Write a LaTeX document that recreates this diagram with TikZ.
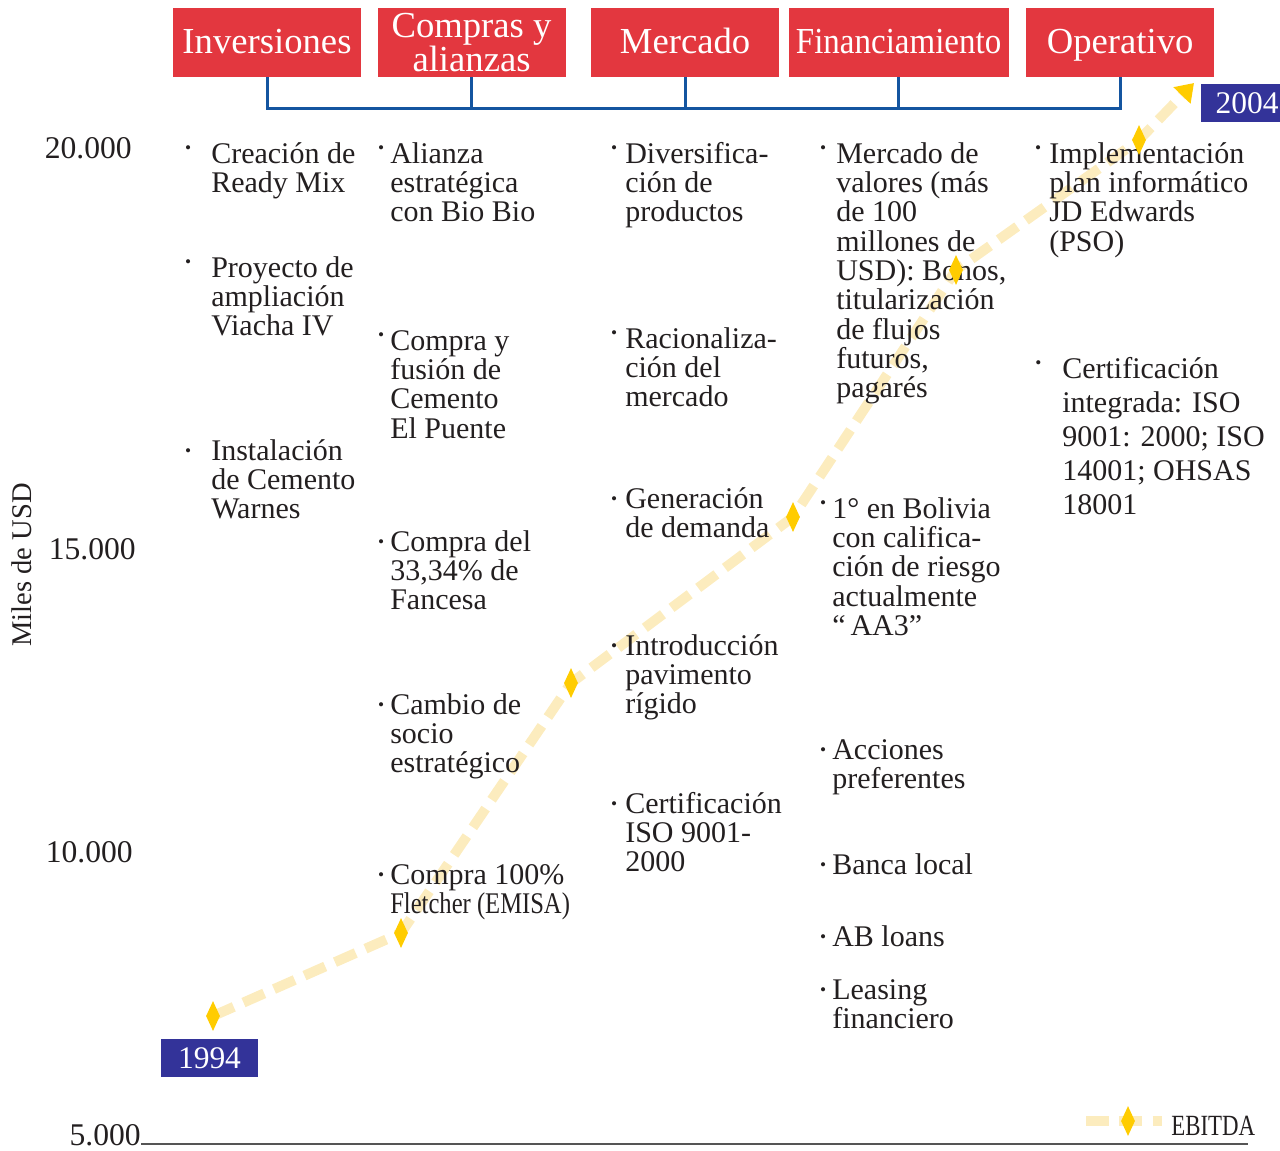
\documentclass[tikz,border=0pt]{standalone}
\usepackage{fontspec}
\setmainfont{Liberation Serif}
\usepackage{graphicx}
\usetikzlibrary{shapes.geometric, arrows.meta, positioning, backgrounds}
\definecolor{memRed}{RGB}{227, 55, 63}
\definecolor{memBlue}{RGB}{20, 85, 160}
\definecolor{memNavy}{RGB}{51, 51, 153}
\definecolor{memGold}{RGB}{255, 204, 0}
\definecolor{memCream}{RGB}{252, 236, 190}
\definecolor{memInk}{RGB}{35, 31, 32}
\definecolor{memAxis}{RGB}{85, 85, 85}
\newcommand{\bodyfont}{\fontsize{22.5}{22}\selectfont}
\newcommand{\headfont}{\fontsize{27.5}{22.5}\selectfont}
% bullet hung left of the first line, strut fixes the top of the node
\newcommand{\bul}[2][7pt]{\llap{\raisebox{#1}{\fontsize{13}{13}\selectfont\textbullet}\hspace{#2}}\rule{0pt}{17pt}}

\begin{document}
\begin{tikzpicture}[
                x=0.75pt, y=-0.75pt,
                head/.style={rectangle, fill=memRed, text=white, minimum width=141pt, minimum height=51.75pt, align=center, font=\headfont, inner sep=2pt},
                onehead/.style={head, text height=20pt, text depth=3pt},
                item/.style={anchor=north west, yshift=17pt, align=left, font=\bodyfont, text=memInk, inner sep=0pt},
                tick/.style={anchor=base east, font=\fontsize{23.7}{24}\selectfont, text=memInk, inner sep=0pt, text depth=0pt},
                year/.style={rectangle, fill=memNavy, text=white, minimum width=72.75pt, minimum height=28.5pt, font=\fontsize{23.6}{24}\selectfont, inner sep=0pt},
                gem/.style={diamond, fill=memGold, minimum width=10.5pt, minimum height=22.5pt, inner sep=0pt},
                ebitda/.style={line width=7.5pt, memCream, dash pattern=on 17pt off 8pt},
                bracket/.style={memBlue, line width=2.25pt},
                axisline/.style={memAxis, line width=1.5pt}
            ]
                \useasboundingbox (0,0) rectangle (1280,1150);

                % headers
                \node[onehead] (inv) at (267,42.5) {Inversiones};
                \node[head, right=12pt of inv] (com) {Compras y\\alianzas};
                \node[onehead, right=18.75pt of com] (mer) {Mercado};
                \node[onehead, minimum width=165pt, right=6.75pt of mer] (fin) {\scalebox{0.9}[1]{Financiamiento}};
                \node[onehead, right=12.75pt of fin] (ope) {Operativo};

                \draw[bracket] (inv.south) -- ++(0,31) -| (ope.south);
                \foreach \n in {com, mer, fin}
                    \draw[bracket] (\n.south) -- ++(0,31);

                % axis
                \node[tick] (y20) at (132,158) {20.000};
                \node[tick] (y15) at (136,559) {15.000};
                \node[tick] (y10) at (133,862) {10.000};
                \node[tick] (y5) at (141,1145) {5.000};
                \node[rotate=90, font=\fontsize{21.4}{22}\selectfont, text=memInk] (ylab) at (22,565) {Miles de USD};
                \coordinate (axisend) at (1248,1144);
                \draw[axisline] (y5.east |- axisend) -- (axisend);

                % Inversiones
                \node[item] (inv1) at (211,163) {\bul{15pt}Creación de\\Ready Mix};
                \node[item] (inv2) at (211,277) {\bul{15pt}Proyecto de\\ampliación\\Viacha IV};
                \node[item] (inv3) at (211,460) {\bul[2.5pt]{15pt}Instalación\\de Cemento\\Warnes};

                % Compras y alianzas
                \node[item] (com1) at (390,163) {\bul{4.5pt}Alianza\\estratégica\\con Bio Bio};
                \node[item] (com2) at (390,350) {\bul{4.5pt}Compra y\\fusión de\\Cemento\\El Puente};
                \node[item] (com3) at (390,551) {\bul[3.2pt]{4.5pt}Compra del\\33,34\% de\\Fancesa};
                \node[item] (com4) at (390,714) {\bul[3.2pt]{4.5pt}Cambio de\\socio\\estratégico};
                \node[item] (com5) at (390,884) {\bul[3.2pt]{4.5pt}Compra 100\%\\\scalebox{0.82}[1]{Fletcher (EMISA)}};

                % Mercado
                \node[item] (mer1) at (625,163) {\bul{6pt}Diversifica-\\ción de\\productos};
                \node[item] (mer2) at (625,348) {\bul{6pt}Racionaliza-\\ción del\\mercado};
                \node[item] (mer3) at (625,508) {\bul[3.2pt]{6pt}Generación\\de demanda};
                \node[item] (mer4) at (625,655) {\bul[3.2pt]{6pt}Introducción\\pavimento\\rígido};
                \node[item] (mer5) at (625,813) {\bul[3.2pt]{6pt}Certificación\\ISO 9001-\\2000};

                % Financiamiento
                \node[item] (fin1) at (836,163) {\bul{7.5pt}Mercado de\\valores (más\\de 100\\millones de\\USD): Bonos,\\titularización\\de flujos\\futuros,\\pagarés};
                \node[item] (fin2) at (832,518) {\bul{4.5pt}1° en Bolivia\\con califica-\\ción de riesgo\\actualmente\\“\,AA3”};
                \node[item] (fin3) at (832,759) {\bul[3.2pt]{4.5pt}Acciones\\preferentes};
                \node[item] (fin4) at (832,874) {\bul[3.2pt]{4.5pt}Banca local};
                \node[item] (fin5) at (832,946) {\bul[3.2pt]{4.5pt}AB loans};
                \node[item] (fin6) at (832,999) {\bul[3.2pt]{4.5pt}Leasing\\financiero};

                % Operativo
                \node[item] (ope1) at (1049,163) {\bul{6pt}Implementación\\plan informático\\JD Edwards\\(PSO)};
                \node[item, font=\fontsize{22.5}{25.5}\selectfont] (ope2) at (1062,378) {\bul{15.7pt}Certificación\\integrada: ISO\\9001: 2000; ISO\\14001; OHSAS\\18001};

                % years
                \node[year] (y1994) at (209.5,1058) {1994};
                \node[year, minimum width=69pt] (y2004) at (1247,103) {2004};

                % EBITDA
                \node[gem] (d1) at (213,1016) {};
                \node[gem] (d2) at (401,933) {};
                \node[gem] (d3) at (571,683) {};
                \node[gem] (d4) at (793,517) {};
                \node[gem] (d5) at (956,270) {};
                \node[gem] (d6) at (1139,140) {};
                \coordinate (tip) at (1194,83);

                \coordinate (legA) at (1086,1121);
                \node[gem] (legd) at (1128,1121) {};
                \node[anchor=base west, inner sep=0pt, font=\fontsize{22}{22}\selectfont, text=memInk] (ebt) at (1171,1135) {\scalebox{0.78}[1]{EBITDA}};

                \begin{scope}[on background layer]
                    \draw[ebitda, -{Triangle[length=13pt, width=17pt, color=memGold]}] (d1.center) -- (d2.center) -- (d3.center) -- (d4.center) -- (d5.center) -- (d6.center) -- (tip);
                    \draw[ebitda, shorten >=6.75pt] (legA) -- (legA -| ebt.west);
                \end{scope}
            \end{tikzpicture}
\end{document}
